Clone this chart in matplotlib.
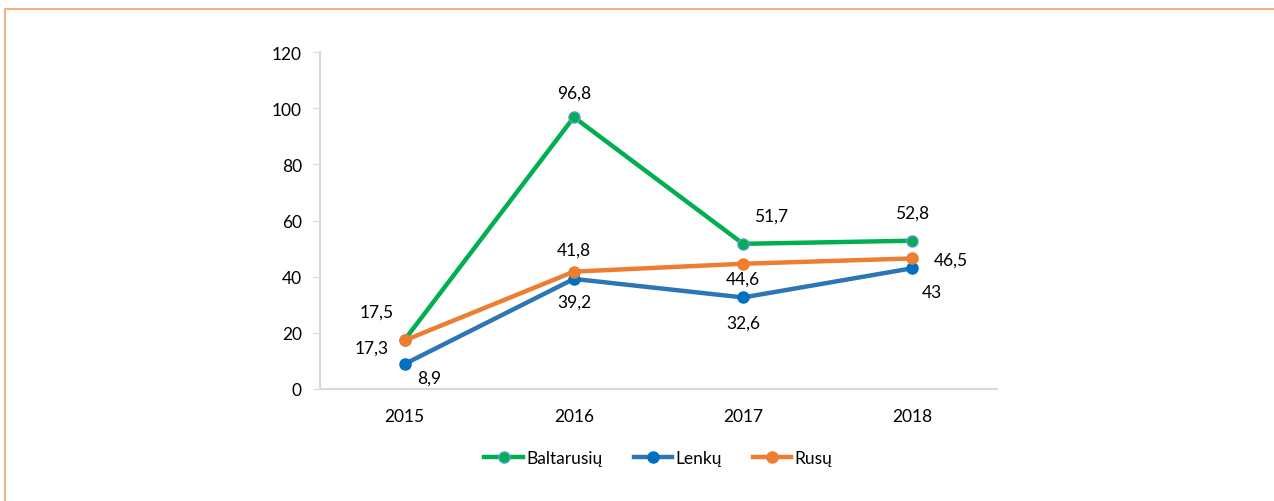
import matplotlib.pyplot as plt
from matplotlib.patches import Rectangle

plt.rcParams['font.family'] = ['Lato', 'DejaVu Sans']

years = ["2015", "2016", "2017", "2018"]
baltarusiu = [17.5, 96.8, 51.7, 52.8]
lenku = [8.9, 39.2, 32.6, 43]
rusu = [17.3, 41.8, 44.6, 46.5]

# label offsets (points) per series
off_balt = [(-20, 20), (0, 18), (20, 20), (0, 20)]
off_lenk = [(18, -10), (0, -16), (0, -18), (14, -17)]
off_rusu = [(-24, -5), (0, 16), (0, -11), (28, -1)]

fig = plt.figure(figsize=(12.74, 5.02), dpi=100)
fig.patches.append(Rectangle((0.004, -0.01), 1.2, 0.99, transform=fig.transFigure,
                             fill=False, edgecolor="#F4B183", linewidth=1.5))
ax = fig.add_axes([320 / 1274, 1 - 390 / 502, 677 / 1274, 337 / 502])

x = list(range(len(years)))
series = [
    ("Baltarusių", baltarusiu, "#00B050", "#00B050", "#5B9BD5", off_balt),
    ("Lenkų", lenku, "#2E75B6", "#0070C0", "#0070C0", off_lenk),
    ("Rusų", rusu, "#ED7D31", "#ED7D31", "#ED7D31", off_rusu),
]
for name, vals, lc, mc, ec, offs in series:
    ax.plot(x, vals, color=lc, linewidth=3.2, marker="o", markersize=8,
            markerfacecolor=mc, markeredgecolor=ec, markeredgewidth=1, label=name)
    for xi, v, (dx, dy) in zip(x, vals, offs):
        txt = f"{v:g}".replace(".", ",")
        ax.annotate(txt, (xi, v), xytext=(dx, dy), textcoords="offset points",
                    ha="center", va="center", fontsize=12.5, color="#000000")

ax.set_xlim(-0.5, 3.5)
ax.set_ylim(0, 120)
ax.set_yticks(range(0, 121, 20))
ax.set_xticks(x)
ax.set_xticklabels(years)
ax.tick_params(axis="y", length=5, color="#D9D9D9", labelsize=12.5, pad=8)
ax.tick_params(axis="x", length=0, labelsize=12.5, pad=14)
for s in ["top", "right"]:
    ax.spines[s].set_visible(False)
for s in ["left", "bottom"]:
    ax.spines[s].set_color("#D9D9D9")
    ax.spines[s].set_linewidth(1.5)

leg = ax.legend(loc="upper center", bbox_to_anchor=(0.5, -0.135), ncol=3, frameon=False,
                fontsize=12.5, handlelength=2.2, handletextpad=0.2, columnspacing=1.8)

fig.savefig("out.png", dpi=100)
